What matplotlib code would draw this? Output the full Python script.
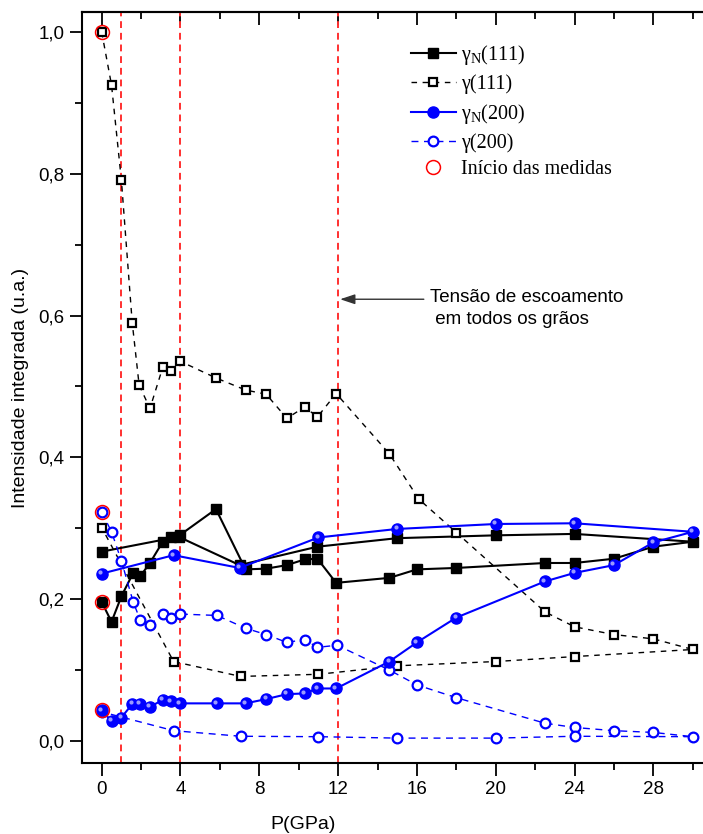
import matplotlib

matplotlib.use("Agg")
import matplotlib.pyplot as plt
import matplotlib.transforms as mtransforms
from matplotlib.ticker import MultipleLocator, FuncFormatter, NullFormatter

_blue = "#0000FF"
_red_line = "#FF3030"

# pressure (GPa) and integrated intensity; loading up to 30 GPa then back
p_g111 = [0, 0.5, 1, 1.55, 1.9, 2.45, 3.1, 3.5, 3.95, 5.8, 7.3, 8.35, 9.4, 10.3,
          10.95, 11.9, 14.6, 16.1, 18, 22.5, 24, 26, 28, 30, 24, 20, 15, 11, 7.05, 3.65, 0]
i_g111 = [1.0, 0.925, 0.791, 0.59, 0.502, 0.469, 0.527, 0.522, 0.536, 0.512, 0.495,
          0.489, 0.455, 0.471, 0.457, 0.49, 0.405, 0.341, 0.294, 0.182, 0.161, 0.15,
          0.144, 0.129, 0.119, 0.112, 0.106, 0.094, 0.091, 0.112, 0.301]

p_gn111 = [0, 0.5, 1, 1.6, 1.95, 2.45, 3.1, 3.5, 3.95, 5.8, 7.3, 8.35, 9.4, 10.3,
           10.95, 11.9, 14.6, 16, 18, 22.5, 24, 26, 28, 30, 24, 20, 15, 10.95, 7.0, 3.9, 0]
i_gn111 = [0.196, 0.168, 0.204, 0.237, 0.232, 0.251, 0.281, 0.287, 0.29, 0.327, 0.242,
           0.243, 0.248, 0.256, 0.257, 0.223, 0.23, 0.242, 0.244, 0.251, 0.251, 0.257,
           0.274, 0.281, 0.292, 0.29, 0.286, 0.274, 0.248, 0.288, 0.267]

p_gn200 = [0, 0.5, 1, 1.55, 1.95, 2.45, 3.1, 3.5, 3.95, 5.85, 7.3, 8.35, 9.4, 10.3,
           10.95, 11.9, 14.6, 16, 18, 22.5, 24, 26, 28, 30, 24, 20, 15, 11, 7.0, 3.65, 0]
i_gn200 = [0.043, 0.028, 0.033, 0.052, 0.052, 0.048, 0.058, 0.056, 0.053, 0.053, 0.053,
           0.059, 0.066, 0.067, 0.074, 0.074, 0.112, 0.139, 0.174, 0.225, 0.237, 0.248,
           0.28, 0.295, 0.307, 0.306, 0.299, 0.287, 0.244, 0.262, 0.236]

p_g200 = [0, 0.5, 1, 1.6, 1.95, 2.45, 3.1, 3.5, 3.95, 5.85, 7.3, 8.35, 9.4, 10.3,
          10.95, 11.95, 14.6, 16, 18, 22.5, 24, 26, 28, 30, 24, 20, 15, 11, 7.05, 3.65, 0]
i_g200 = [0.323, 0.295, 0.254, 0.196, 0.171, 0.164, 0.179, 0.173, 0.179, 0.177, 0.159,
          0.15, 0.139, 0.143, 0.132, 0.135, 0.1, 0.079, 0.061, 0.025, 0.019, 0.0145,
          0.012, 0.006, 0.0066, 0.004, 0.004, 0.006, 0.0066, 0.0145, 0.041]

# first measurement of each series
p_start = [0, 0, 0, 0]
i_start = [1.0, 0.323, 0.196, 0.043]

p_marks = [1, 4, 12]

plt.rcParams["font.family"] = ["Liberation Sans", "DejaVu Sans"]
plt.rcParams["mathtext.fontset"] = "custom"
plt.rcParams["mathtext.rm"] = "Liberation Serif"

fig = plt.figure(figsize=(7.03, 8.34), dpi=100)
ax = fig.add_axes([0.1162, 0.0848, 0.8838, 0.9012])

for p in p_marks:
    ax.axvline(p, color=_red_line, linestyle=(0, (3.5, 2.5)), linewidth=1.4, zorder=1)

ax.plot(p_gn111, i_gn111, color="black", linewidth=1.5, marker="s", markersize=7,
        markerfacecolor="black", markeredgecolor="black", zorder=3,
        label="γ$_{\\mathregular{N}}$(111)")
ax.plot(p_g111, i_g111, color="black", linewidth=1.0, linestyle=(0, (4, 4)),
        marker="s", markersize=6, markerfacecolor="white", markeredgecolor="black",
        markeredgewidth=1.6, zorder=3, label="γ(111)")
ax.plot(p_gn200, i_gn200, color=_blue, linewidth=1.5, marker="o", markersize=8,
        markerfacecolor=_blue, markeredgecolor=_blue, zorder=4,
        label="γ$_{\\mathregular{N}}$(200)")
ax.plot(p_g200, i_g200, color=_blue, linewidth=1.0, linestyle=(0, (5, 4)),
        marker="o", markersize=7, markerfacecolor="white", markeredgecolor=_blue,
        markeredgewidth=1.6, zorder=3, label="γ(200)")

# small highlight to mimic the shaded spheres
shine = mtransforms.offset_copy(ax.transData, fig=fig, x=-1.2, y=1.2, units="points")
ax.plot(p_gn200, i_gn200, linestyle="none", marker="o", markersize=3,
        markerfacecolor="#9a9aff", markeredgecolor="none", transform=shine, zorder=5)

ax.plot(p_start, i_start, linestyle="none", marker="o", markersize=10,
        markerfacecolor="none", markeredgecolor="red", markeredgewidth=1.1,
        zorder=6, label="Início das medidas")

ax.annotate("", xy=(12.1, 0.623), xytext=(16.35, 0.623),
            arrowprops=dict(arrowstyle="-|>,head_length=0.9,head_width=0.3",
                            color="#333333", lw=1.0, shrinkA=0, shrinkB=0))
ax.text(16.65, 0.626, "Tensão de escoamento", fontsize=13.5, va="center", ha="left")
ax.text(16.65, 0.595, " em todos os grãos", fontsize=13.5, va="center", ha="left")

ax.set_xlim(-1.015, 30.52)
ax.set_ylim(-0.0315, 1.0286)
ax.xaxis.set_major_locator(MultipleLocator(4))
ax.xaxis.set_minor_locator(MultipleLocator(2))
ax.yaxis.set_major_locator(MultipleLocator(0.2))
ax.yaxis.set_minor_locator(MultipleLocator(0.1))
ax.yaxis.set_major_formatter(FuncFormatter(lambda v, pos: f"{v:.1f}".replace(".", ",")))

ax.tick_params(axis="both", which="major", direction="out", length=9, width=1.3,
               labelsize=13.5)
ax.tick_params(axis="both", which="minor", direction="out", length=5, width=1.3)
ax.spines["right"].set_visible(False)
for side in ["left", "bottom", "top"]:
    ax.spines[side].set_linewidth(1.5)

# top axis: ticks pointing into the plot, no labels
top = ax.secondary_xaxis("top")
top.xaxis.set_major_locator(MultipleLocator(4))
top.xaxis.set_minor_locator(MultipleLocator(2))
top.xaxis.set_major_formatter(NullFormatter())
top.tick_params(which="major", direction="in", length=9, width=1.3)
top.tick_params(which="minor", direction="in", length=5, width=1.3)
top.spines["top"].set_linewidth(1.5)

ax.set_xlabel("P(GPa)", fontsize=14)
ax.set_ylabel("Intensidade integrada (u.a.)", fontsize=14)
ax.xaxis.set_label_coords(0.356, -0.07)
ax.yaxis.set_label_coords(-0.085, 0.5)

ax.legend(loc="upper left", bbox_to_anchor=(0.585, 0.948), bbox_transform=fig.transFigure,
          frameon=False, prop={"family": "Liberation Serif", "size": 14.5},
          handlelength=2.2, handletextpad=0.25, labelspacing=0.36, borderpad=0,
          borderaxespad=0)

fig.savefig("out.png", dpi=100)
